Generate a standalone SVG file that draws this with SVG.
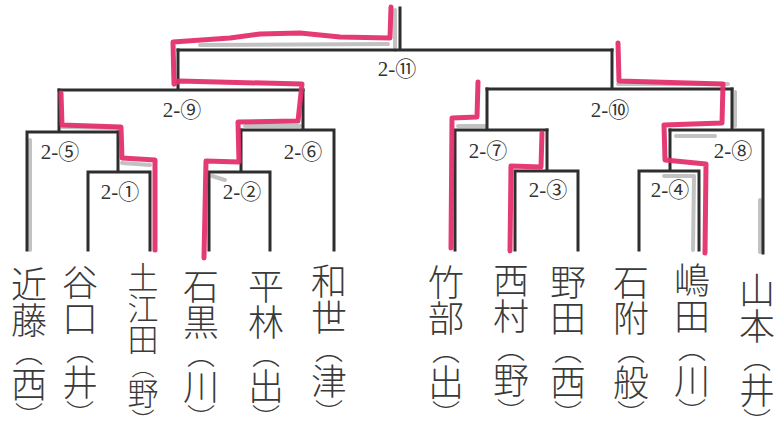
<svg xmlns="http://www.w3.org/2000/svg" width="782" height="439" viewBox="0 0 782 439">
<style>
.ln{fill:none;stroke:#2e2e2e;stroke-width:3;stroke-linecap:square;stroke-linejoin:miter}
.sh{fill:none;stroke:#9a9a9a;stroke-width:4;stroke-linecap:round;opacity:0.6}
.rd{fill:none;stroke:#e4306c;stroke-width:5;stroke-linecap:round;stroke-linejoin:round;opacity:0.95}
.lb{font-family:"Liberation Serif","Noto Sans CJK JP",serif;font-size:21px;fill:#333;text-anchor:middle}
.nm{font-family:"Noto Sans CJK JP","Noto Sans CJK SC",sans-serif;font-size:36px;fill:#3a3a3a;writing-mode:vertical-rl;font-weight:300}
.nm3{font-size:31px}
.p{font-size:28px}
.p3{font-size:23px}
</style>
<rect width="782" height="439" fill="#ffffff"/>
<g id="shading">
<path class="sh" d="M200,45 L388,44"/>
<path class="sh" d="M395,10 L395,50"/>
<path class="sh" d="M62,127 L118,128"/>
<path class="sh" d="M122,163 L150,165"/>
<path class="sh" d="M245,126 L300,126"/>
<path class="sh" d="M212,176 L225,180"/>
<path class="sh" d="M458,126 L485,126"/>
<path class="sh" d="M618,84 L728,84"/>
<path class="sh" d="M676,136 L715,136"/>
<path class="sh" d="M664,176 L694,176 M694,176 L693,250"/>
<path class="sh" d="M735,92 L735,126"/>
<path class="sh" d="M760,200 L760,252"/>
<path class="sh" d="M30,140 L30,250"/>
</g>
<g id="connectors">
<path id="m1" class="ln" d="M88,250 V172 H150 V250 M118,172 V132"/>
<path id="m2" class="ln" d="M209,250 V172 H270 V250 M241,172 V130"/>
<path id="m5" class="ln" d="M27,250 V132 H118 M59,132 V90"/>
<path id="m6" class="ln" d="M241,130 H334 V250 M303,130 V90"/>
<path id="m9" class="ln" d="M59,90 H303 M178,90 V50"/>
<path id="m3" class="ln" d="M515,250 V171 H578 V250 M547,171 V130"/>
<path id="m7" class="ln" d="M455,250 V130 H547 M487,130 V89"/>
<path id="m4" class="ln" d="M639,250 V171 H699 V250 M670,171 V130"/>
<path id="m8" class="ln" d="M670,130 H763 V253 M732,130 V89"/>
<path id="m10" class="ln" d="M487,89 H732 M612,89 V50"/>
<path id="m11" class="ln" d="M178,50 H612 M400,50 V8"/>
</g>
<g id="winner-paths">
<path class="rd" d="M155,250 L155,160 L122,158 L121,127 L62,125 L61,93"/>
<path class="rd" d="M204,258 L206,161 L239,162 L238,122 L298,121 L302,84 L179,81 L174,84 L173,42 L230,38 L260,34 L300,33 L340,37 L390,38 L391,7"/>
<path class="rd" d="M451,248 L452,118 L477,117 L478,82"/>
<path class="rd" d="M510,251 L511,166 L541,167 L542,133"/>
<path class="rd" d="M705,253 L706,164 L665,160 L664,125 L722,123 L723,84 L619,81 L618,43"/>
</g>
<g id="match-labels">
<g id="label-2-11"><text class="lb" x="397" y="76">2-⑪</text></g>
<g id="label-2-9"><text class="lb" x="182" y="117">2-⑨</text></g>
<g id="label-2-10"><text class="lb" x="610" y="117">2-⑩</text></g>
<g id="label-2-5"><text class="lb" x="60" y="159">2-⑤</text></g>
<g id="label-2-6"><text class="lb" x="303" y="159">2-⑥</text></g>
<g id="label-2-7"><text class="lb" x="488" y="158">2-⑦</text></g>
<g id="label-2-8"><text class="lb" x="733" y="158">2-⑧</text></g>
<g id="label-2-1"><text class="lb" x="120" y="199">2-①</text></g>
<g id="label-2-2"><text class="lb" x="242" y="199">2-②</text></g>
<g id="label-2-3"><text class="lb" x="548" y="197">2-③</text></g>
<g id="label-2-4"><text class="lb" x="670" y="197">2-④</text></g>
</g>
<g id="players">
<g id="p-kondo"><text class="nm" x="29" y="266">近藤<tspan class="p">（</tspan>西<tspan class="p">）</tspan></text></g>
<g id="p-taniguchi"><text class="nm" x="80" y="264">谷口<tspan class="p">（</tspan>井<tspan class="p">）</tspan></text></g>
<g id="p-tsuchieda"><text class="nm nm3" x="143" y="262">土江田<tspan class="p3">（</tspan>野<tspan class="p3">）</tspan></text></g>
<g id="p-ishiguro"><text class="nm" x="201" y="268">石黒<tspan class="p">（</tspan>川<tspan class="p">）</tspan></text></g>
<g id="p-hirabayashi"><text class="nm" x="266" y="268">平林<tspan class="p">（</tspan>出<tspan class="p">）</tspan></text></g>
<g id="p-wase"><text class="nm" x="329" y="263">和世<tspan class="p">（</tspan>津<tspan class="p">）</tspan></text></g>
<g id="p-takebe"><text class="nm" x="446" y="264">竹部<tspan class="p">（</tspan>出<tspan class="p">）</tspan></text></g>
<g id="p-nishimura"><text class="nm" x="511" y="262">西村<tspan class="p">（</tspan>野<tspan class="p">）</tspan></text></g>
<g id="p-noda"><text class="nm" x="568" y="264">野田<tspan class="p">（</tspan>西<tspan class="p">）</tspan></text></g>
<g id="p-ishizuki"><text class="nm" x="631" y="264">石附<tspan class="p">（</tspan>般<tspan class="p">）</tspan></text></g>
<g id="p-shimada"><text class="nm" x="692" y="262">嶋田<tspan class="p">（</tspan>川<tspan class="p">）</tspan></text></g>
<g id="p-yamamoto"><text class="nm" x="757" y="272">山本<tspan class="p">（</tspan>井<tspan class="p">）</tspan></text></g>
</g>
</svg>
